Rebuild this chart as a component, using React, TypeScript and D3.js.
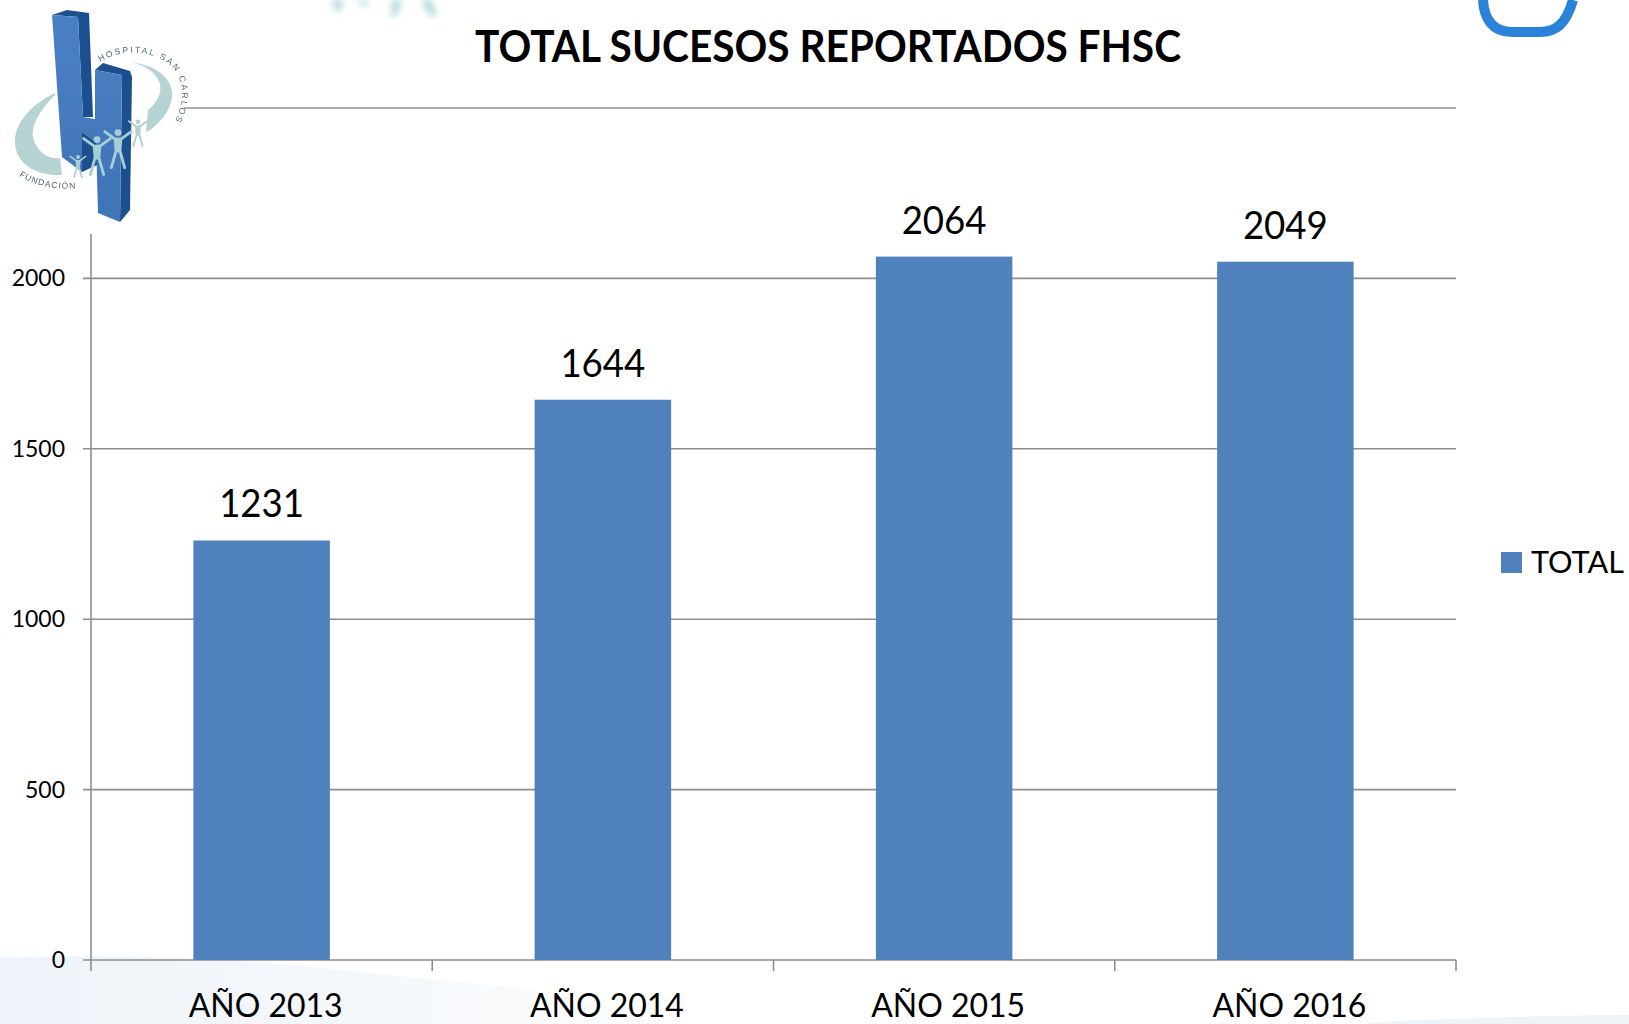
import React from "react";
import * as d3 from "d3";

const categories = ["AÑO 2013", "AÑO 2014", "AÑO 2015", "AÑO 2016"];
const totals = [1231, 1644, 2064, 2049];
const yTicks = [0, 500, 1000, 1500, 2000, 2500];
const seriesName = "TOTAL";
const chartTitle = "TOTAL SUCESOS REPORTADOS FHSC";

const W = 1629, H = 1024;
const plot = { left: 91, right: 1456, top: 108, bottom: 960 };
const FONT = "Lato, Carlito, sans-serif";
const BAR = "#4f81bd";
const GRID = "#8e8e8e";

function Logo() {
  const side = "#1f4f8e", swoosh = "#a9cbcb", fig = "#a5cfd6";
  const person = (x: number, y: number, s: number, c = fig) => (
    <g transform={`translate(${x},${y}) scale(${s})`} stroke={c} fill={c} strokeLinecap="round" strokeLinejoin="round">
      <circle cx="0" cy="-11" r="3.6" stroke="none" />
      <path d="M-14,-12 L-3,-4 L3,-4 L14,-12 M-3,-4 L-2,8 L-7,26 M3,-4 L2,8 L7,26" strokeWidth="3" fill="none" />
      <path d="M-3,-4 L3,-4 L3,10 L-3,10 Z" stroke="none" />
    </g>
  );
  return (
    <g>
      <defs>
        <linearGradient id="hFace" x1="0" y1="0" x2="0" y2="1">
          <stop offset="0" stopColor="#4a80c4" />
          <stop offset="1" stopColor="#3f74b6" />
        </linearGradient>
        <filter id="logoBlur"><feGaussianBlur stdDeviation="0.45" /></filter>
        <path id="logoTop" d="M100,62 C120,49 150,49 170,65 C184,77 187,102 172,126" />
        <path id="logoBottom" d="M19,176 C35,186 60,192 90,187" />
      </defs>
      <rect x="10" y="0" width="174" height="232" fill="#fff" />
      <g filter="url(#logoBlur)">
        <path d="M55,93 C30,105 14,124 15,143 C16,164 36,176 62,175 L60,158 C46,160 36,150 33,137 C31,124 42,108 55,95 Z" fill={swoosh} opacity="0.85" />
        <path d="M133,63 C150,64 170,74 172,92 C173,106 164,120 150,130 L146,132 L148,110 C156,104 162,94 160,84 C156,72 146,66 133,63 Z" fill={swoosh} opacity="0.85" />
        <path d="M52,15 L67,10 L89,13 L93,117 L83,117 L78,17 Z" fill={side} />
        <path d="M95,70 L103,63 L130,71 L132,77 L130,210 L120,222 L122,75 Z" fill={side} />
        <path d="M52,15 L78,17 L83,117 L95,119 L95,70 L122,75 L120,222 L98,213 L96,142 L82,132 L82,172 L62,157 Z" fill="url(#hFace)" />
        <path d="M82,132 L96,142 L97,165 L82,172 Z" fill={side} />
        {person(78, 163, 0.55)}
        {person(97, 150, 0.95)}
        {person(118, 143, 0.95)}
        {person(138, 129, 0.65, "#b5cfcf")}
        <text fontFamily="Liberation Sans, sans-serif" fontSize="8.5" fill="#52687a" letterSpacing="2">
          <textPath href="#logoTop">HOSPITAL SAN CARLOS</textPath>
        </text>
        <text fontFamily="Liberation Sans, sans-serif" fontSize="8.5" fill="#4d6273" letterSpacing="1">
          <textPath href="#logoBottom">FUNDACIÓN</textPath>
        </text>
      </g>
    </g>
  );
}

function Backdrop() {
  return (
    <g>
      <defs>
        <linearGradient id="wash" x1="0" y1="0" x2="1" y2="0">
          <stop offset="0" stopColor="#eef3f9" />
          <stop offset="0.55" stopColor="#f5f8fb" />
          <stop offset="1" stopColor="#fbfcfd" />
        </linearGradient>
        <filter id="soft"><feGaussianBlur stdDeviation="3" /></filter>
      </defs>
      <path d="M0,958 C100,954 200,958 255,962 C350,970 450,982 510,987 C570,995 620,1010 663,1024 L0,1024 Z" fill="url(#wash)" />
      <path d="M1360,1024 C1400,1020 1450,1019 1487,1018 C1540,1016 1590,1015 1629,1015 L1629,1024 Z" fill="#eef3f8" />
      <g filter="url(#soft)" fill="#a7d3d6" opacity="0.8">
        <path d="M330,0 L345,0 L338,14 Z" />
        <path d="M356,0 L368,0 L366,8 Z" />
        <path d="M392,0 L402,0 L396,18 L391,16 Z" />
        <path d="M420,0 L432,0 L437,16 L430,16 Z" />
      </g>
      <path d="M1483,0 C1484,18 1492,32 1512,32 L1540,32 C1556,32 1566,24 1573,0" fill="none" stroke="#2a82da" strokeWidth="10" />
    </g>
  );
}

export default function App() {
  const x = d3.scaleBand<string>().domain(categories).range([plot.left, plot.right]).paddingInner(0.6).paddingOuter(0.3);
  const y = d3.scaleLinear().domain([0, 2500]).range([plot.bottom, plot.top]);
  const step = x.step();
  const edges = d3.range(categories.length + 1).map((i) => plot.left + i * step);

  return (
    <svg width={W} height={H} viewBox={`0 0 ${W} ${H}`} style={{ position: "absolute", left: 0, top: 0, background: "#fff" }} fontFamily={FONT}>
      <Backdrop />
      {yTicks.map((t) => (
        <g key={t}>
          <line x1={t === 2500 ? plot.left : plot.left - 8} x2={plot.right} y1={y(t)} y2={y(t)} stroke={GRID} strokeWidth={1.6} />
          {t < 2500 && (
            <text x={65} y={y(t) + 8} textAnchor="end" fontSize={23} fill="#000">{t}</text>
          )}
        </g>
      ))}
      <line x1={plot.left} x2={plot.left} y1={234} y2={plot.bottom + 11} stroke={GRID} strokeWidth={1.6} />
      {edges.slice(1).map((e) => (
        <line key={e} x1={e} x2={e} y1={plot.bottom} y2={plot.bottom + 11} stroke={GRID} strokeWidth={1.6} />
      ))}
      {categories.map((c, i) => (
        <g key={c}>
          <rect x={x(c)} y={y(totals[i])} width={x.bandwidth()} height={plot.bottom - y(totals[i])} fill={BAR} />
          <text x={x(c)! + x.bandwidth() / 2} y={y(totals[i]) - 23} textAnchor="middle" fontSize={39} fill="#000" textLength={85} lengthAdjust="spacingAndGlyphs">{totals[i]}</text>
          <text x={x(c)! + x.bandwidth() / 2 + 4} y={1017} textAnchor="middle" fontSize={33} fill="#000" textLength={154} lengthAdjust="spacingAndGlyphs">{c}</text>
        </g>
      ))}
      <text x={828} y={62} textAnchor="middle" fontSize={44} fontWeight={700} fill="#000" textLength={706} lengthAdjust="spacingAndGlyphs">{chartTitle}</text>
      <rect x={1501} y={552} width={21} height={21} fill={BAR} />
      <text x={1531} y={573} fontSize={30} fill="#000" textLength={93} lengthAdjust="spacingAndGlyphs">{seriesName}</text>
      <Logo />
    </svg>
  );
}
